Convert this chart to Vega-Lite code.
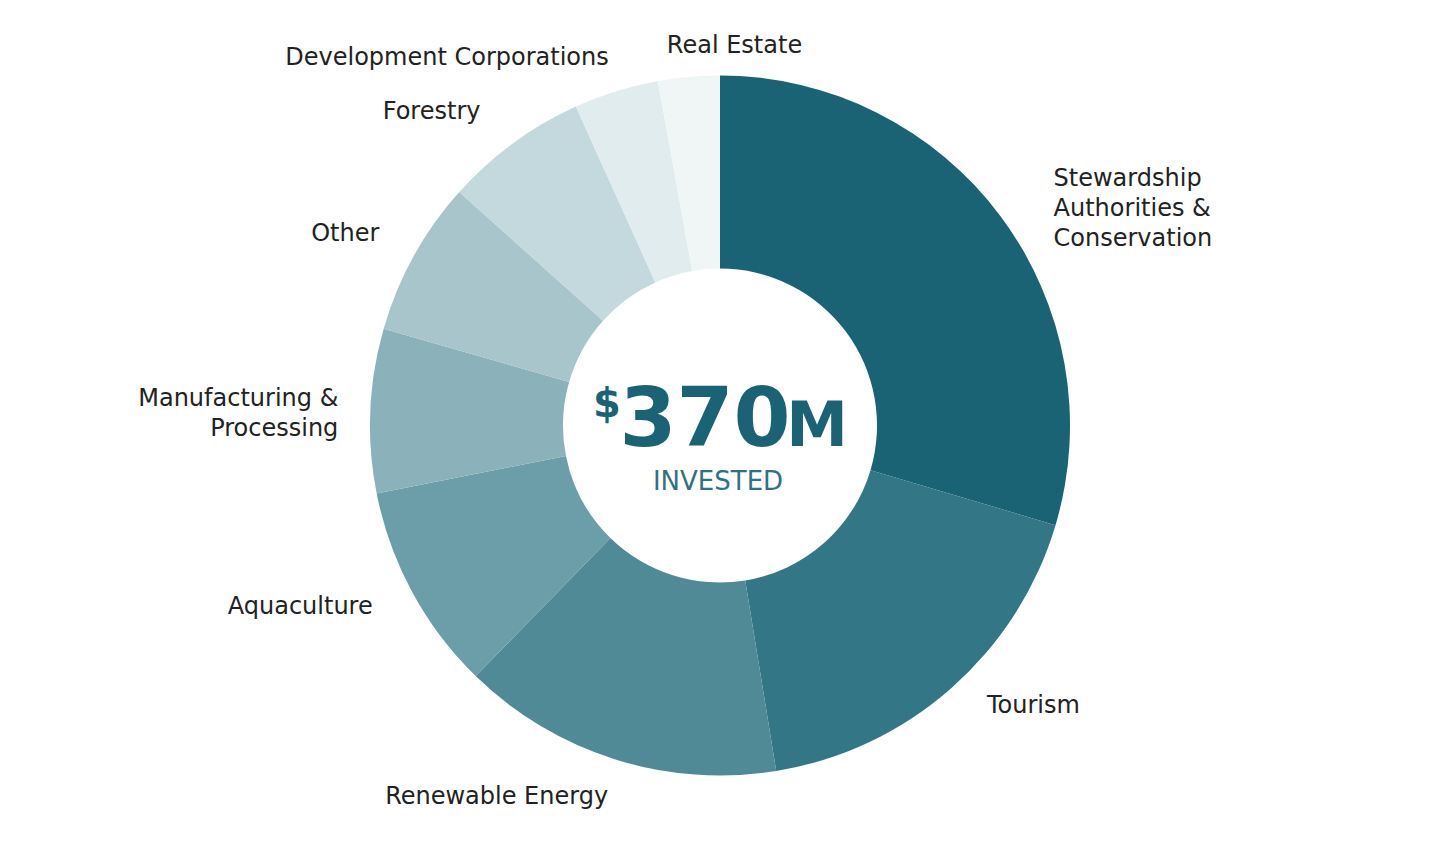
{
  "$schema": "https://vega.github.io/schema/vega-lite/v6.json",
  "width": 1440,
  "height": 851,
  "autosize": {"type": "fit", "contains": "padding"},
  "background": "white",
  "config": {"view": {"stroke": null}, "text": {"font": "DejaVu Sans", "fontSize": 24, "color": "#222222", "baseline": "middle", "lineBreak": "\n", "lineHeight": 30}},
  "datasets": {
    "sectors": [
      {"sector": "Stewardship Authorities & Conservation", "label": "Stewardship\nAuthorities &\nConservation", "value": 109.5},
      {"sector": "Tourism", "label": "Tourism", "value": 66},
      {"sector": "Renewable Energy", "label": "Renewable Energy", "value": 55},
      {"sector": "Aquaculture", "label": "Aquaculture", "value": 35.5},
      {"sector": "Manufacturing & Processing", "label": "Manufacturing &\nProcessing", "value": 28},
      {"sector": "Other", "label": "Other", "value": 26.5},
      {"sector": "Forestry", "label": "Forestry", "value": 24.5},
      {"sector": "Development Corporations", "label": "Development Corporations", "value": 14.5},
      {"sector": "Real Estate", "label": "Real Estate", "value": 10.5}
    ],
    "center": [
      {"part": "dollar", "t": "$"},
      {"part": "num", "t": "370"},
      {"part": "unit", "t": "M"},
      {"part": "sub", "t": "INVESTED"}
    ]
  },
  "layer": [
    {
      "data": {"name": "sectors"},
      "mark": {"type": "arc", "innerRadius": 157, "outerRadius": 350},
      "encoding": {
        "theta": {"field": "value", "type": "quantitative", "stack": true},
        "order": {"field": "value", "type": "quantitative", "sort": "descending"},
        "color": {
          "field": "sector", "type": "nominal", "legend": null,
          "scale": {
            "domain": ["Stewardship Authorities & Conservation", "Tourism", "Renewable Energy", "Aquaculture", "Manufacturing & Processing", "Other", "Forestry", "Development Corporations", "Real Estate"],
            "range": ["#1a6374", "#337685", "#518a97", "#6c9ea9", "#8bb1ba", "#a7c5ca", "#c4d9de", "#e0ecee", "#f0f6f6"]
          }
        }
      }
    },
    {
      "data": {"name": "sectors"},
      "mark": {"type": "text", "radius": 395, "align": "left", "dx": 17, "dy": -10},
      "encoding": {
        "theta": {"field": "value", "type": "quantitative", "stack": true},
        "order": {"field": "value", "type": "quantitative", "sort": "descending"},
        "text": {"condition": {"test": "datum.sector == 'Stewardship Authorities & Conservation'", "field": "label"}, "value": ""}
      }
    },
    {
      "data": {"name": "sectors"},
      "mark": {"type": "text", "radius": 395, "align": "left", "dx": 6, "dy": -16},
      "encoding": {
        "theta": {"field": "value", "type": "quantitative", "stack": true},
        "order": {"field": "value", "type": "quantitative", "sort": "descending"},
        "text": {"condition": {"test": "datum.sector == 'Tourism'", "field": "label"}, "value": ""}
      }
    },
    {
      "data": {"name": "sectors"},
      "mark": {"type": "text", "radius": 395, "align": "left", "dx": -18, "dy": 14},
      "encoding": {
        "theta": {"field": "value", "type": "quantitative", "stack": true},
        "order": {"field": "value", "type": "quantitative", "sort": "descending"},
        "text": {"condition": {"test": "datum.sector == 'Real Estate'", "field": "label"}, "value": ""}
      }
    },
    {
      "data": {"name": "sectors"},
      "mark": {"type": "text", "radius": 395, "align": "right", "dx": 6, "dy": 10},
      "encoding": {
        "theta": {"field": "value", "type": "quantitative", "stack": true},
        "order": {"field": "value", "type": "quantitative", "sort": "descending"},
        "text": {"condition": {"test": "datum.sector == 'Development Corporations'", "field": "label"}, "value": ""}
      }
    },
    {
      "data": {"name": "sectors"},
      "mark": {"type": "text", "radius": 395, "align": "right", "dx": -6, "dy": 5},
      "encoding": {
        "theta": {"field": "value", "type": "quantitative", "stack": true},
        "order": {"field": "value", "type": "quantitative", "sort": "descending"},
        "text": {"condition": {"test": "datum.sector == 'Forestry'", "field": "label"}, "value": ""}
      }
    },
    {
      "data": {"name": "sectors"},
      "mark": {"type": "text", "radius": 395, "align": "right", "dx": 5, "dy": 0},
      "encoding": {
        "theta": {"field": "value", "type": "quantitative", "stack": true},
        "order": {"field": "value", "type": "quantitative", "sort": "descending"},
        "text": {"condition": {"test": "datum.sector == 'Other'", "field": "label"}, "value": ""}
      }
    },
    {
      "data": {"name": "sectors"},
      "mark": {"type": "text", "radius": 395, "align": "right", "dx": 13, "dy": -10},
      "encoding": {
        "theta": {"field": "value", "type": "quantitative", "stack": true},
        "order": {"field": "value", "type": "quantitative", "sort": "descending"},
        "text": {"condition": {"test": "datum.sector == 'Manufacturing & Processing'", "field": "label"}, "value": ""}
      }
    },
    {
      "data": {"name": "sectors"},
      "mark": {"type": "text", "radius": 395, "align": "right", "dx": 0, "dy": -7},
      "encoding": {
        "theta": {"field": "value", "type": "quantitative", "stack": true},
        "order": {"field": "value", "type": "quantitative", "sort": "descending"},
        "text": {"condition": {"test": "datum.sector == 'Aquaculture'", "field": "label"}, "value": ""}
      }
    },
    {
      "data": {"name": "sectors"},
      "mark": {"type": "text", "radius": 395, "align": "right", "dx": 7, "dy": -5},
      "encoding": {
        "theta": {"field": "value", "type": "quantitative", "stack": true},
        "order": {"field": "value", "type": "quantitative", "sort": "descending"},
        "text": {"condition": {"test": "datum.sector == 'Renewable Energy'", "field": "label"}, "value": ""}
      }
    },
    {
      "data": {"name": "center"},
      "transform": [{"filter": "datum.part == 'num'"}],
      "mark": {"type": "text", "fontWeight": "bold", "fontSize": 82, "color": "#1a6374", "align": "center", "baseline": "alphabetic", "dx": -15, "dy": 20},
      "encoding": {"text": {"field": "t"}}
    },
    {
      "data": {"name": "center"},
      "transform": [{"filter": "datum.part == 'dollar'"}],
      "mark": {"type": "text", "fontWeight": "bold", "fontSize": 40, "color": "#1a6374", "align": "center", "baseline": "alphabetic", "dx": -113, "dy": -9},
      "encoding": {"text": {"field": "t"}}
    },
    {
      "data": {"name": "center"},
      "transform": [{"filter": "datum.part == 'unit'"}],
      "mark": {"type": "text", "fontWeight": "bold", "fontSize": 62, "color": "#1a6374", "align": "center", "baseline": "alphabetic", "dx": 97, "dy": 20},
      "encoding": {"text": {"field": "t"}}
    },
    {
      "data": {"name": "center"},
      "transform": [{"filter": "datum.part == 'sub'"}],
      "mark": {"type": "text", "fontSize": 26, "color": "#2f7282", "align": "center", "baseline": "alphabetic", "dx": -2, "dy": 64},
      "encoding": {"text": {"field": "t"}}
    }
  ]
}
